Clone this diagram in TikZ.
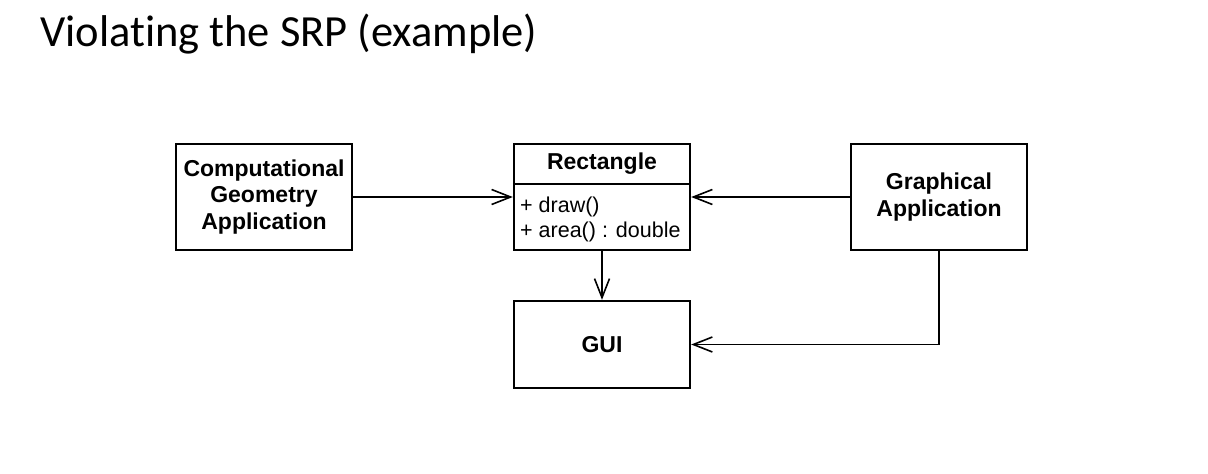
\documentclass[tikz,border=0pt]{standalone}
\usepackage{fontspec}
\setmainfont{Liberation Sans}
\newfontfamily\titlefont[Ligatures=NoCommon]{Carlito}
\usetikzlibrary{arrows.meta}
\begin{document}
\begin{tikzpicture}[x=1pt,y=-1pt,
  classbox/.style={draw=black,line width=2.4pt,minimum width=176pt,inner sep=0pt,
    font=\fontsize{23}{26.5}\selectfont\bfseries,align=center},
  member/.style={font=\fontsize{21.5}{25}\selectfont,anchor=west,inner sep=0pt},
  link/.style={draw=black,line width=1.8pt,
    -{Straight Barb[length=19pt,width=15pt,line width=1.6pt]}}]
  \useasboundingbox (0,0) rectangle (1208,474);

  % title
  \node[anchor=base west,inner sep=0pt,font=\titlefont\fontsize{44.5}{50}\selectfont]
    (title) at (40,46.5) {Violating the SRP (example)};

  % classes
  \node[classbox,minimum height=106pt] (cga) at (264,197)
    {Computational\\Geometry\\Application};
  \node[classbox,minimum height=106pt] (ga) at (939,197)
    {Graphical\\Application};
  \node[classbox,minimum height=87pt] (gui) at (602,344.5) {GUI};

  % Rectangle class with header and member compartment
  \node[classbox,minimum height=106pt] (rect) at (602,197) {};
  \draw[line width=2.4pt] (rect.west |- 0,184) coordinate (divl) -- (rect.east |- 0,184) coordinate (divr);
  \node[font=\fontsize{23}{26.5}\selectfont\bfseries,inner sep=0pt] (rname) at (602,164) {Rectangle};
  \node[member] (m1) at (520,207) {+ draw()};
  \node[member] (m2) at (520,232) {+ area() : double};

  % dependencies
  \draw[link] (cga.east) -- (rect.west);
  \draw[link] (ga.west) -- (rect.east);
  \draw[link] (rect.south) -- (gui.north);
  \draw[link] (ga.south) |- (gui.east);
\end{tikzpicture}
\end{document}
